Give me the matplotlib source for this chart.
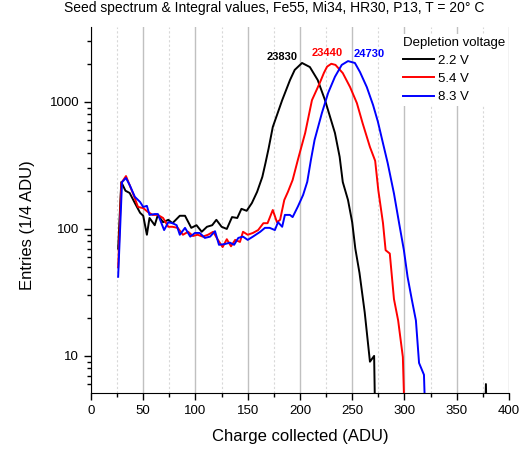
import numpy as np
import matplotlib.pyplot as plt
from matplotlib.ticker import MultipleLocator, LogLocator, FuncFormatter, NullFormatter

plt.rcParams['font.family'] = ['Liberation Sans', 'DejaVu Sans']

# 2.2 V
x_22 = [26, 29, 33, 37, 42, 47, 50, 53.5, 56, 61, 64, 69, 74, 78, 85, 90, 96, 101, 106, 111,
        116, 120, 125, 130, 135, 140, 144, 149, 154, 159, 164, 167, 170, 174, 183, 190.5, 195,
        202, 209.5, 217, 224, 233.5, 238, 241, 246, 250, 253, 257, 262, 267, 271, 273,
        376, 378, 380]
y_22 = [70, 234, 200, 192, 160, 134, 127, 90, 122, 107, 129, 113, 118, 111, 127, 127, 102, 107, 95, 104,
        107, 118, 104, 100, 124, 122, 144, 139, 160, 196, 257, 330, 430, 635, 1034, 1490, 1790,
        2030, 1885, 1490, 1034, 570, 370, 234, 169, 113, 70, 45, 22, 9, 10, 1,
        1, 6, 1]

# 5.4 V
x_54 = [26, 29, 33.5, 40, 45, 50, 54.5, 59, 64, 69, 74, 78, 83, 88, 93, 97.6, 102, 107, 112, 117,
        121.5, 126, 130, 134, 138, 142.6, 145.5, 150, 155, 160, 165, 169, 174, 178, 181, 185, 188.5,
        193, 198, 205, 211.5, 219, 223, 226, 230, 234, 238, 241, 248, 254.5, 260, 267, 272, 275,
        279.5, 282, 286, 290, 294, 298.5, 302]
y_54 = [50, 230, 261, 192, 149, 146, 136, 129, 129, 122, 104, 104, 102, 90, 95, 88, 90, 87, 90, 95,
        82, 72, 83, 73, 82, 79, 95, 90, 93, 98, 111, 111, 141, 113, 118, 169, 196,
        243, 350, 570, 1034, 1415, 1700, 1900, 2000, 1960, 1800, 1690, 1310, 980, 680, 442, 344, 202,
        111, 68, 64, 28, 19, 9.8, 1]

# 8.3 V
x_83 = [26, 29.7, 33.5, 37, 42, 47, 50, 53.5, 56, 61, 64, 70, 74, 78, 82, 85, 90, 95, 99.5, 104,
        109, 114, 118.7, 122.5, 128, 133, 137, 141, 145.5, 150, 155, 162, 166.5, 171, 176, 179, 183,
        185.6, 190.4, 193, 198, 203, 207, 210.5, 214, 221, 227, 233.5, 240, 246, 252.6, 257.5, 264,
        270, 274.6, 279.4, 284, 290, 295, 299.5, 303, 307, 311, 314, 318.7, 322]
y_83 = [42, 234, 252, 222, 179, 163, 149, 152, 129, 131, 131, 98, 113, 111, 107, 90, 102, 87, 93, 93,
        85, 87, 96, 75, 76, 78, 75, 85, 87, 82, 87, 95, 102, 102, 98, 113, 104,
        129, 129, 124, 150, 185, 235, 350, 502, 818, 1180, 1580, 1960, 2100, 2030, 1720, 1310,
        946, 700, 476, 330, 190, 110, 68, 42, 28, 19, 8.8, 7.1, 1]

labels = ['2.2 V', '5.4 V', '8.3 V']
integrals = ['23830', '23440', '24730']
colors = ['black', 'red', 'blue']

fig = plt.figure(figsize=(5.29, 4.57), dpi=100)
ax = fig.add_axes([0.172, 0.140, 0.790, 0.801])

series = [(x_22, y_22), (x_54, y_54), (x_83, y_83)]
for (xs, ys), lab, c in zip(series, labels, colors):
    ax.plot(xs, ys, color=c, lw=1.4, label=lab)

# integral values above the peaks
ax.text(183, 2250, integrals[0], color=colors[0], fontsize=8, fontweight='bold', ha='center', va='center')
ax.text(226, 2420, integrals[1], color=colors[1], fontsize=8, fontweight='bold', ha='center', va='center')
ax.text(266, 2380, integrals[2], color=colors[2], fontsize=8, fontweight='bold', ha='center', va='center')

ax.set_yscale('log')
ax.set_xlim(0, 400)
ax.set_ylim(5.1, 3900)

ax.xaxis.set_major_locator(MultipleLocator(50))
ax.xaxis.set_minor_locator(MultipleLocator(25))
ax.yaxis.set_major_locator(LogLocator(base=10))
ax.yaxis.set_minor_locator(LogLocator(base=10, subs=np.arange(2, 10)))
ax.yaxis.set_major_formatter(FuncFormatter(lambda v, p: '%d' % v))
ax.yaxis.set_minor_formatter(NullFormatter())

ax.grid(True, which='major', axis='x', color='#c0c0c0', lw=1.0)
ax.grid(True, which='minor', axis='x', color='#d8d8d8', lw=0.8, ls=(0, (2, 2)))
ax.set_axisbelow(True)

for s in ['top', 'right']:
    ax.spines[s].set_visible(False)
ax.tick_params(which='both', direction='out', labelsize=9.5, width=1)
ax.tick_params(which='major', length=5)
ax.tick_params(which='minor', length=3)

ax.set_xlabel('Charge collected (ADU)', fontsize=12, labelpad=9)
ax.set_ylabel('Entries (1/4 ADU)', fontsize=12)
ax.yaxis.set_label_coords(-0.135, 0.46)

fig.text(0.518, 0.982, 'Seed spectrum & Integral values, Fe55, Mi34, HR30, P13, T = 20° C',
         ha='center', va='center', fontsize=10)

leg = ax.legend(title='Depletion voltage', loc='upper left', bbox_to_anchor=(0.744, 0.94),
                bbox_transform=fig.transFigure, fontsize=9.5, title_fontsize=9.5,
                handlelength=2.4, handletextpad=0.3, labelspacing=0.45, borderpad=0.2,
                frameon=True, framealpha=1, edgecolor='none', facecolor='white', fancybox=False)
leg._legend_box.align = 'left'

plt.savefig('out.png', dpi=100)
